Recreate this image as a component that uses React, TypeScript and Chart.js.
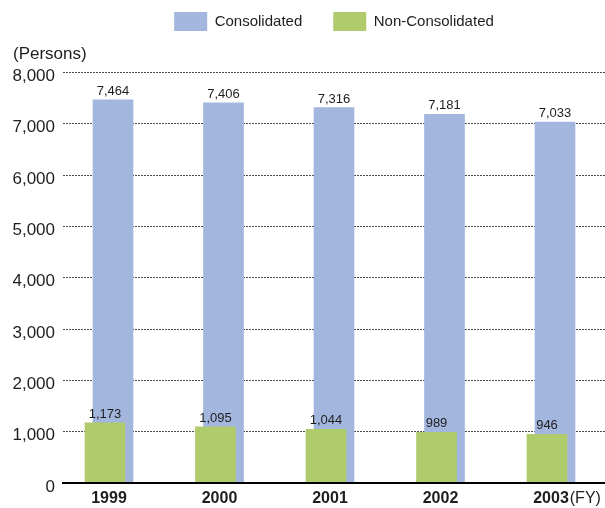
import React, { useEffect, useRef } from 'react';
import { Chart, registerables } from 'chart.js';

Chart.register(...registerables);

// ---- data ----
const years = ['1999', '2000', '2001', '2002', '2003'];
const consolidated = [7464, 7406, 7316, 7181, 7033];
const nonConsolidated = [1173, 1095, 1044, 989, 946];
const seriesNames = ['Consolidated', 'Non-Consolidated'];
const yUnit = '(Persons)';
const xUnit = '(FY)';
const yMin = 0;
const yMax = 8000;
const yStep = 1000;

// ---- styles ----
const FONT = "'Liberation Sans', Arial, Helvetica, sans-serif";
const BLUE = '#A3B6DD';
const GREEN = '#AFCB6C';
const TEXT = '#1e1e1e';

const fmt = (v: number) => v.toLocaleString('en-US');

const valueLabels = {
  id: 'valueLabels',
  afterDatasetsDraw(chart: any) {
    const ctx = chart.ctx;
    ctx.save();
    ctx.font = `13px ${FONT}`;
    ctx.fillStyle = TEXT;
    ctx.textAlign = 'center';
    ctx.textBaseline = 'alphabetic';
    chart.data.datasets.forEach((ds: any, di: number) => {
      const meta = chart.getDatasetMeta(di);
      meta.data.forEach((el: any, i: number) => {
        const v = ds.data[i].y;
        ctx.fillText(fmt(v), el.x, el.y - 5);
      });
    });
    ctx.restore();
  },
};

const unitLabel = {
  id: 'unitLabel',
  afterDraw(chart: any) {
    const scale = chart.scales.x;
    const items = scale.getLabelItems ? scale.getLabelItems() : scale._labelItems;
    if (!items || !items.length) return;
    const last = items[items.length - 1];
    const ctx = chart.ctx;
    ctx.save();
    ctx.font = `bold 16px ${FONT}`;
    const w = ctx.measureText(String(last.label)).width;
    const [tx, ty] = last.options.translation;
    ctx.font = `16px ${FONT}`;
    ctx.fillStyle = TEXT;
    ctx.textAlign = 'left';
    ctx.textBaseline = last.options.textBaseline || 'middle';
    ctx.fillText(xUnit, tx + w / 2 + 1, ty + (last.textOffset || 0));
    ctx.restore();
  },
};

export default function App() {
  const ref = useRef<HTMLCanvasElement | null>(null);

  useEffect(() => {
    if (!ref.current) return;
    const chart = new Chart(ref.current, {
      type: 'bar',
      data: {
        datasets: [
          {
            label: seriesNames[0],
            data: consolidated.map((v, i) => ({ x: i, y: v })),
            backgroundColor: BLUE,
            borderWidth: 0,
            barThickness: 40,
            grouped: false,
            xAxisID: 'xb',
            order: 1,
          },
          {
            label: seriesNames[1],
            data: nonConsolidated.map((v, i) => ({ x: i, y: v })),
            backgroundColor: GREEN,
            borderWidth: 0,
            barThickness: 40,
            grouped: false,
            xAxisID: 'xg',
            order: 0,
          },
        ],
      } as any,
      options: {
        animation: false,
        responsive: false,
        events: [],
        layout: { padding: { top: -19, left: 13, right: 0, bottom: 0 } },
        plugins: {
          tooltip: { enabled: false },
          legend: {
            position: 'top',
            align: 'center',
            fullSize: false,
            reverse: true,
            weight: 1000,
            labels: {
              boxWidth: 33,
              boxHeight: 19,
              padding: 31,
              color: TEXT,
              font: { family: FONT, size: 15 },
            },
          },
          title: {
            display: true,
            text: yUnit,
            align: 'start',
            position: 'top',
            weight: 500,
            color: TEXT,
            font: { family: FONT, size: 17, weight: 'normal' },
            padding: { top: 3, bottom: 8 },
          },
        },
        scales: {
          x: {
            type: 'linear',
            position: 'bottom',
            offset: false,
            min: -0.4163,
            max: 4.4887,
            afterBuildTicks: (s: any) => {
              s.ticks = years.map((_, i) => ({ value: i }));
            },
            afterFit: (s: any) => {
              s.height = 25;
            },
            ticks: {
              callback: (v: any) => years[v] ?? '',
              font: { family: FONT, size: 16, weight: 'bold' },
              color: TEXT,
              padding: 6,
              maxRotation: 0,
              autoSkip: false,
            },
            grid: { drawOnChartArea: false, drawTicks: false, offset: false },
            border: { display: true, color: '#000', width: 2, z: 1 },
          },
          xb: {
            type: 'linear',
            display: false,
            offset: false,
            grid: { offset: false },
            min: -0.4525,
            max: 4.4525,
          },
          xg: {
            type: 'linear',
            display: false,
            offset: false,
            grid: { offset: false },
            min: -0.3801,
            max: 4.5249,
          },
          y: {
            min: yMin,
            max: yMax,
            afterFit: (s: any) => {
              s.width = 50;
            },
            ticks: {
              stepSize: yStep,
              callback: (v: any) => fmt(Number(v)),
              font: { family: FONT, size: 17 },
              color: TEXT,
              padding: 8,
              labelOffset: 4,
            },
            grid: { color: '#4a4a4a', lineWidth: 1, drawTicks: false },
            border: { display: false, dash: [2, 1] },
          },
        },
      } as any,
      plugins: [valueLabels, unitLabel],
    });
    return () => chart.destroy();
  }, []);

  return (
    <div style={{ position: 'absolute', left: 0, top: 0, width: 605, height: 508, background: '#fff' }}>
      <canvas ref={ref} width={605} height={508} style={{ display: 'block' }} />
    </div>
  );
}
